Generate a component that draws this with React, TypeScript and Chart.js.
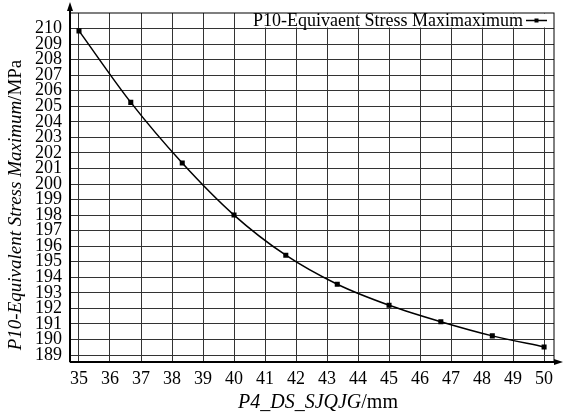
import React, { useEffect, useRef } from "react";
import { Chart, registerables } from "chart.js";

Chart.register(...registerables);

const xValues = [35, 36.67, 38.33, 40, 41.67, 43.33, 45, 46.67, 48.33, 50];
const stressValues = [209.85, 205.25, 201.35, 198.0, 195.42, 193.55, 192.2, 191.14, 190.23, 189.52];
const xTicks = [35, 36, 37, 38, 39, 40, 41, 42, 43, 44, 45, 46, 47, 48, 49, 50];
const yTicks = [189, 190, 191, 192, 193, 194, 195, 196, 197, 198, 199, 200, 201, 202, 203, 204, 205, 206, 207, 208, 209, 210];
const legendLabel = "P10-Equivaent Stress Maximaximum";
const yTitleItalic = "P10-Equivalent Stress Maximum";
const yTitleUnit = "/MPa";
const xTitleItalic = "P4_DS_SJQJG";
const xTitleUnit = "/mm";

const FONT = '"Liberation Serif", "Times New Roman", serif';

const decorPlugin = {
  id: "decor",
  afterDraw(chart: any) {
    const ctx = chart.ctx as CanvasRenderingContext2D;
    const a = chart.chartArea;
    ctx.save();
    // legend box
    ctx.fillStyle = "#fff";
    const lx = 248;
    ctx.fillRect(lx, a.top + 0.5, a.right - lx - 1, 14);
    ctx.fillStyle = "#000";
    ctx.font = `18px ${FONT}`;
    ctx.textBaseline = "alphabetic";
    ctx.textAlign = "right";
    ctx.fillText(legendLabel, 523, a.top + 13);
    ctx.strokeStyle = "#000";
    ctx.lineWidth = 1.5;
    ctx.beginPath();
    ctx.moveTo(526, a.top + 7.5);
    ctx.lineTo(547, a.top + 7.5);
    ctx.stroke();
    ctx.fillRect(534.5, a.top + 5.5, 4, 4);
    // frame
    ctx.lineWidth = 1;
    ctx.strokeRect(a.left, a.top, a.right - a.left, a.bottom - a.top);
    // axes heavier
    ctx.lineWidth = 2;
    ctx.beginPath();
    ctx.moveTo(a.left, a.bottom);
    ctx.lineTo(a.left, 5);
    ctx.moveTo(a.left, a.bottom);
    ctx.lineTo(560, a.bottom);
    ctx.stroke();
    // arrows
    ctx.beginPath();
    ctx.moveTo(a.left, 2);
    ctx.lineTo(a.left - 3, 11);
    ctx.lineTo(a.left + 3, 11);
    ctx.closePath();
    ctx.fill();
    ctx.beginPath();
    ctx.moveTo(563, a.bottom);
    ctx.lineTo(554, a.bottom - 3);
    ctx.lineTo(554, a.bottom + 3);
    ctx.closePath();
    ctx.fill();
    // x title
    ctx.textBaseline = "middle";
    ctx.textAlign = "left";
    ctx.font = `italic 20px ${FONT}`;
    const w1 = ctx.measureText(xTitleItalic).width;
    ctx.font = `20px ${FONT}`;
    const w2 = ctx.measureText(xTitleUnit).width;
    let sx = 318 - (w1 + w2) / 2;
    ctx.font = `italic 20px ${FONT}`;
    ctx.fillText(xTitleItalic, sx, 403);
    ctx.font = `20px ${FONT}`;
    ctx.fillText(xTitleUnit, sx + w1, 403);
    // y title
    ctx.translate(16, 205);
    ctx.rotate(-Math.PI / 2);
    ctx.font = `italic 19px ${FONT}`;
    const v1 = ctx.measureText(yTitleItalic).width;
    ctx.font = `19px ${FONT}`;
    const v2 = ctx.measureText(yTitleUnit).width;
    sx = -(v1 + v2) / 2;
    ctx.font = `italic 19px ${FONT}`;
    ctx.fillText(yTitleItalic, sx, 0);
    ctx.font = `19px ${FONT}`;
    ctx.fillText(yTitleUnit, sx + v1, 0);
    ctx.restore();
  },
};

export default function App() {
  const ref = useRef<HTMLCanvasElement | null>(null);
  useEffect(() => {
    if (!ref.current) return;
    const chart = new Chart(ref.current, {
      type: "line",
      data: {
        datasets: [
          {
            label: legendLabel,
            data: xValues.map((x, i) => ({ x, y: stressValues[i] })),
            borderColor: "#000",
            backgroundColor: "#000",
            borderWidth: 1.5,
            pointStyle: "rect",
            pointRadius: 2.5,
            cubicInterpolationMode: "monotone",
            fill: false,
          },
        ],
      },
      options: {
        animation: false,
        responsive: false,
        maintainAspectRatio: false,
        layout: { autoPadding: false, padding: { left: 0, right: 10, top: 13, bottom: 0 } },
        plugins: { legend: { display: false }, tooltip: { enabled: false } },
        scales: {
          x: {
            type: "linear",
            min: 34.71,
            max: 50.32,
            afterBuildTicks: (s: any) => {
              s.ticks = xTicks.map((v) => ({ value: v }));
            },
            afterFit: (s: any) => {
              s.height = 56;
              s.paddingLeft = 0;
              s.paddingRight = 0;
            },
            grid: { color: "#333", lineWidth: 1, drawTicks: false },
            border: { display: false },
            ticks: {
              padding: 6,
              color: "#000",
              font: { family: FONT, size: 18 },
              maxRotation: 0,
              autoSkip: false,
            },
          },
          y: {
            type: "linear",
            min: 188.55,
            max: 211,
            afterBuildTicks: (s: any) => {
              s.ticks = yTicks.map((v) => ({ value: v }));
            },
            afterFit: (s: any) => {
              s.width = 70;
              s.paddingTop = 0;
              s.paddingBottom = 0;
            },
            grid: { color: "#333", lineWidth: 1, drawTicks: false },
            border: { display: false },
            ticks: {
              padding: 8,
              color: "#000",
              font: { family: FONT, size: 18 },
              autoSkip: false,
            },
          },
        },
      },
      plugins: [decorPlugin],
    });
    return () => chart.destroy();
  }, []);
  return (
    <div style={{ position: "fixed", left: 0, top: 0, width: 564, height: 418, background: "#fff" }}>
      <canvas ref={ref} width={564} height={418} style={{ width: 564, height: 418 }} />
    </div>
  );
}
